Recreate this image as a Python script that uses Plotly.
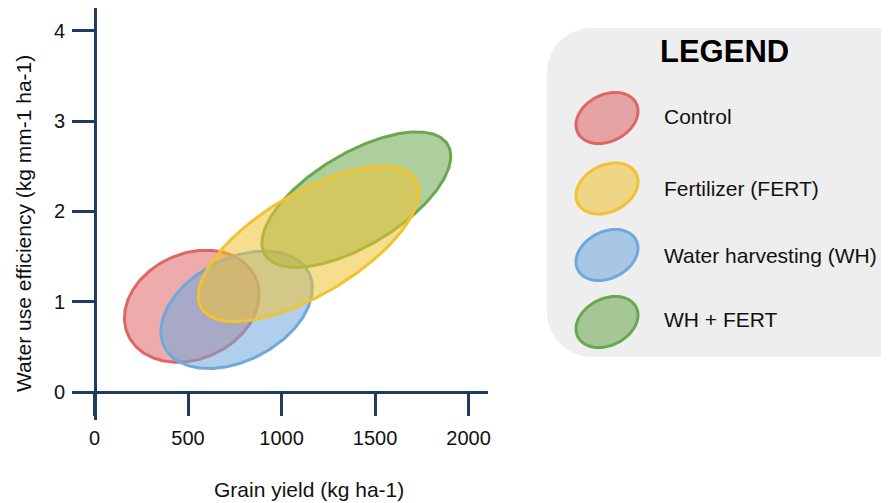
import numpy as np
import plotly.graph_objects as go

# ---------------- data ----------------
treatments = ["Control", "Fertilizer (FERT)", "Water harvesting (WH)", "WH + FERT"]
yield_mean = [520, 1145, 760, 1400]          # kg ha-1 (ellipse centre)
wue_mean = [0.95, 1.64, 0.91, 2.13]          # kg mm-1 ha-1 (ellipse centre)
yield_spread = [360, 590, 405, 505]          # half-extent along x
wue_spread = [0.62, 0.86, 0.65, 0.75]        # half-extent along y
correlation = [0.21, 0.67, 0.37, 0.64]       # yield / WUE correlation (tilt)

x_ticks = [0, 500, 1000, 1500, 2000]
y_ticks = [0, 1, 2, 3, 4]

line_colors = ["#e06666", "#f1c232", "#6fa8dc", "#6aa84f"]
draw_order = [0, 2, 3, 1]

# ---------------- styling / layout ----------------
OFF = 8                      # page body margin
W, H = 889 - OFF, 503 - OFF
ML, MT = 83 - OFF, 8 - OFF
MR = W - (488 - OFF)
MB = H - (420 - OFF)
PW, PH = W - ML - MR, H - MT - MB
AXIS = "#1f3b63"
FONT = "Liberation Sans, Arial, sans-serif"


def rgba(hex_color, a):
    h = hex_color.lstrip("#")
    r, g, b = int(h[0:2], 16), int(h[2:4], 16), int(h[4:6], 16)
    return f"rgba({r},{g},{b},{a})"


def paper_x(px):
    return (px - OFF - ML) / PW


def paper_y(py):
    return (MT + PH - (py - OFF)) / PH


t = np.linspace(0, 2 * np.pi, 241)

fig = go.Figure()
for i in draw_order:
    rho = correlation[i]
    xs = yield_mean[i] + yield_spread[i] * np.cos(t)
    ys = wue_mean[i] + wue_spread[i] * (rho * np.cos(t) + np.sqrt(1 - rho ** 2) * np.sin(t))
    fig.add_trace(go.Scatter(
        x=xs, y=ys, mode="lines", fill="toself",
        line=dict(color=line_colors[i], width=3),
        fillcolor=rgba(line_colors[i], 0.55),
        name=treatments[i], showlegend=False, hoverinfo="skip",
    ))

axis_common = dict(
    showgrid=False, zeroline=False, showline=True,
    linecolor=AXIS, linewidth=3,
    ticks="outside", ticklen=22, tickwidth=3, tickcolor=AXIS,
    tickfont=dict(family=FONT, size=20, color="#111111"),
    anchor="free", fixedrange=True,
)

fig.update_layout(
    width=W, height=H, autosize=False,
    margin=dict(l=ML, r=MR, t=MT, b=MB),
    paper_bgcolor="white", plot_bgcolor="white",
    xaxis=dict(range=[-61.5, 2104], tickvals=x_ticks, position=paper_y(392),
               ticklabelstandoff=5, **axis_common),
    yaxis=dict(range=[-0.31, 4.252], tickvals=y_ticks, position=paper_x(95),
               ticklabelstandoff=3, **axis_common),
    showlegend=False,
)

annotations = [
    dict(text="Grain yield (kg ha-1)", x=paper_x(309), y=paper_y(489),
         font=dict(family=FONT, size=21, color="#111111")),
    dict(text="Water use efficiency (kg mm-1 ha-1)", x=paper_x(23), y=paper_y(224),
         textangle=-90, font=dict(family=FONT, size=21, color="#111111")),
    dict(text="<b>LEGEND</b>", x=paper_x(724.5), y=paper_y(52),
         font=dict(family=FONT, size=31, color="#000000")),
]

# ---------------- custom legend ----------------
shapes = []
box_top, box_bot, box_left, r = 28, 357, 547, 45
hh = (box_bot - box_top) / 2
k = 0.5523 * r
box_path = (
    f"M 0,{-hh + r} L 0,{hh - r} C 0,{hh - r + k} {r - k},{hh} {r},{hh} "
    f"L 420,{hh} L 420,{-hh} L {r},{-hh} C {r - k},{-hh} 0,{-hh + r - k} 0,{-hh + r} Z"
)
shapes.append(dict(
    type="path", xref="paper", yref="paper",
    xsizemode="pixel", ysizemode="pixel",
    xanchor=paper_x(box_left), yanchor=paper_y((box_top + box_bot) / 2),
    path=box_path, fillcolor="#eeeeee", line=dict(width=0), layer="below",
))

legend_marker_y = [118, 188.5, 255, 322]
legend_text_y = [116, 188, 255, 319]
tt = np.linspace(0, 2 * np.pi, 73)
lrho = 0.27
ex = 31 * np.cos(tt)
ey = 25.5 * (lrho * np.cos(tt) + np.sqrt(1 - lrho ** 2) * np.sin(tt))
ell_path = "M " + " L ".join(f"{a:.2f},{b:.2f}" for a, b in zip(ex, ey)) + " Z"
for i, name in enumerate(treatments):
    shapes.append(dict(
        type="path", xref="paper", yref="paper",
        xsizemode="pixel", ysizemode="pixel",
        xanchor=paper_x(607), yanchor=paper_y(legend_marker_y[i]),
        path=ell_path, fillcolor=rgba(line_colors[i], 0.55),
        line=dict(color=line_colors[i], width=3), layer="above",
    ))
    annotations.append(dict(
        text=name, x=paper_x(662), y=paper_y(legend_text_y[i]), xanchor="left",
        font=dict(family=FONT, size=21, color="#111111"),
    ))

for a in annotations:
    a.setdefault("xanchor", "center")
    a.update(xref="paper", yref="paper", showarrow=False, yanchor="middle")

fig.update_layout(shapes=shapes, annotations=annotations)
fig.write_html("out.html")
